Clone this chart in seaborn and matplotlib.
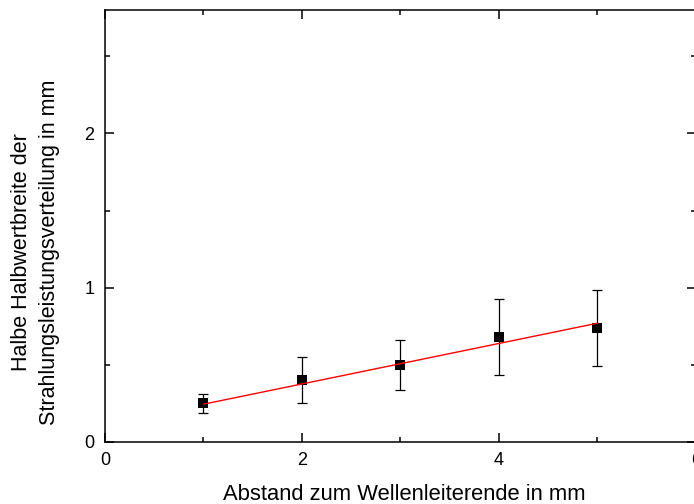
import numpy as np
import pandas as pd
import matplotlib
matplotlib.use("Agg")
import matplotlib.pyplot as plt
import seaborn as sns
from matplotlib.ticker import MultipleLocator

# measured values
abstand = [1, 2, 3, 4, 5]
halbwertbreite = [0.25, 0.40, 0.50, 0.68, 0.74]
fehler = [0.06, 0.15, 0.16, 0.245, 0.245]

# linear fit line
fit_x = [1, 5]
fit_y = [0.245, 0.77]

df = pd.DataFrame({"x": abstand, "y": halbwertbreite, "err": fehler})
df_fit = pd.DataFrame({"x": fit_x, "y": fit_y})

sns.set_theme(style="ticks")
plt.rcParams['font.family'] = ['Liberation Sans', 'DejaVu Sans']

fig = plt.figure(figsize=(6.94, 5.04), dpi=100)
ax = fig.add_axes([105 / 694, 62 / 504, 591 / 694, 432 / 504])

# error bars
ax.errorbar(df["x"], df["y"], yerr=df["err"], fmt="none", ecolor="black",
            elinewidth=0.9, capsize=3.6, capthick=0.9, zorder=2)

# data points
sns.scatterplot(data=df, x="x", y="y", ax=ax, marker="s", s=60,
                color="black", edgecolor="black", linewidth=0, zorder=3)

# fit line
sns.lineplot(data=df_fit, x="x", y="y", ax=ax, color="#ff0000",
             linewidth=1.0, zorder=4)

ax.set_xlim(0, 6)
ax.set_ylim(0, 2.8)
ax.xaxis.set_major_locator(MultipleLocator(2))
ax.xaxis.set_minor_locator(MultipleLocator(1))
ax.yaxis.set_major_locator(MultipleLocator(1))
ax.yaxis.set_minor_locator(MultipleLocator(0.5))

ax.tick_params(which="both", direction="in", top=True, right=True,
               colors="black", width=1.1)
ax.tick_params(which="major", length=6.7, labelsize=13, pad=7.5)
ax.tick_params(which="minor", length=3.5)
for s in ax.spines.values():
    s.set_linewidth(1.1)
    s.set_color("black")

ax.set_xlabel("Abstand zum Wellenleiterende in mm", fontsize=15.8,
              va="center", color="black")
ax.set_ylabel("Halbe Halbwertbreite der\nStrahlungsleistungsverteilung in mm",
              fontsize=15.5, va="center", ha="center", color="black",
              linespacing=1.45)
ax.yaxis.set_label_coords(-0.117, 0.44)
ax.xaxis.set_label_coords(0.506, -0.122)

fig.savefig("out.png", dpi=100)
